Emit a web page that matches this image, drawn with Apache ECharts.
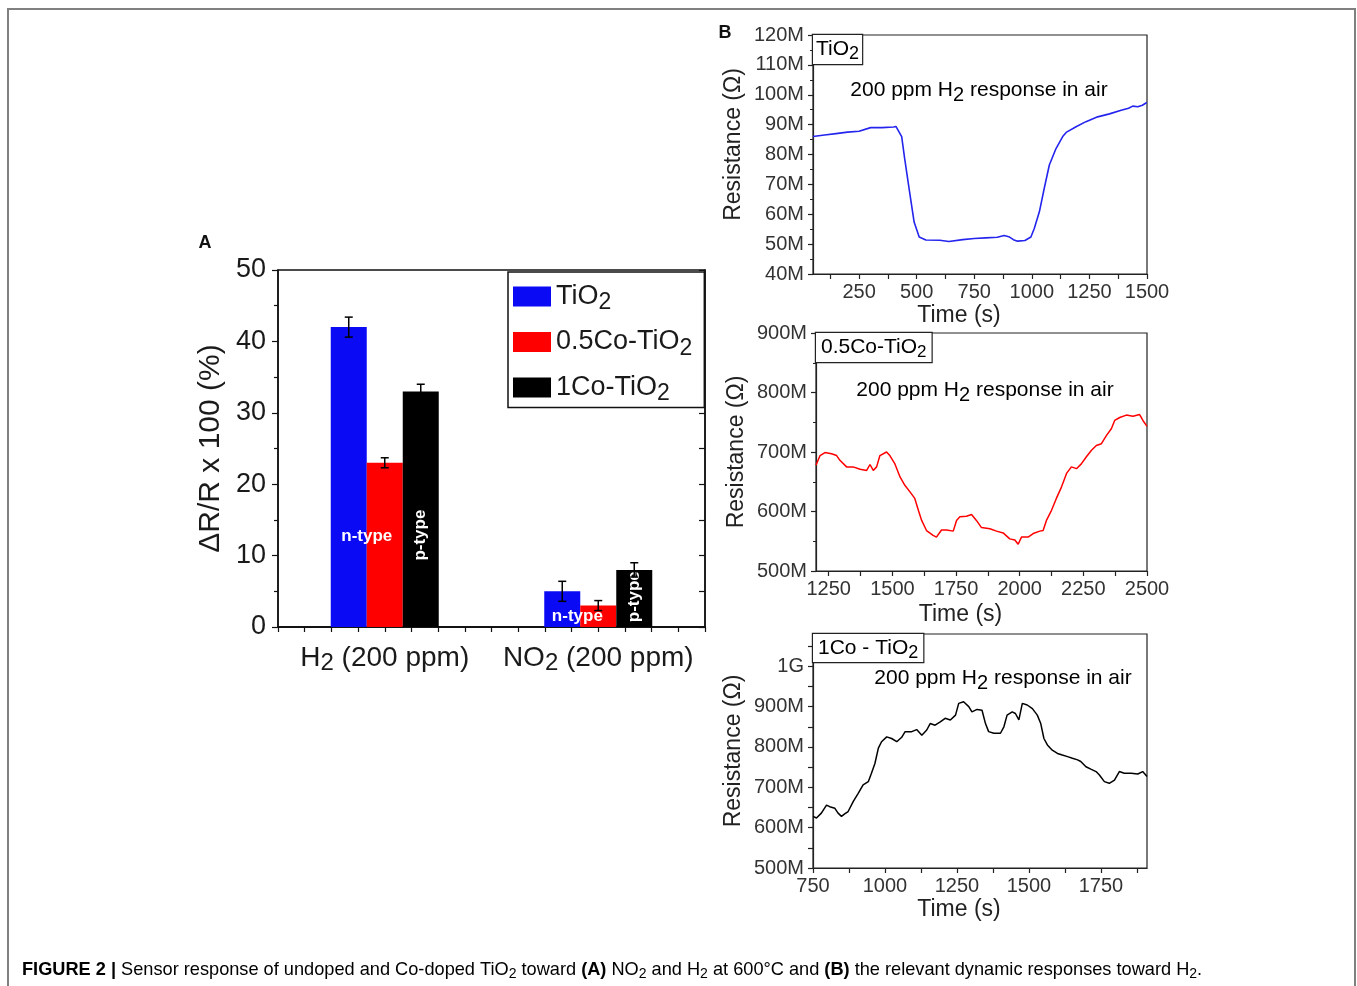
<!DOCTYPE html>
<html><head><meta charset="utf-8">
<script src="https://cdn.jsdelivr.net/npm/echarts@6/dist/echarts.min.js"></script>
<style>html,body{margin:0;padding:0;background:#fff}#c{width:1357px;height:986px}</style>
</head><body><div id="c"></div>
<script>
// ---------- Panel A data ----------
const gases = ['H2 (200 ppm)', 'NO2 (200 ppm)'];
const seriesNames = ['TiO2', '0.5Co-TiO2', '1Co-TiO2'];
const tio2Resp = [42, 5];
const co05Resp = [23, 3];
const co1Resp = [33, 8];
const tio2Err = [1.4, 1.4];
const co05Err = [0.7, 0.7];
const co1Err = [1.0, 1.0];

// ---------- Panel B data ----------
const tio2Time = [50,100,150,200,250,300,350,400,410,435,448,467,489,511,540,600,640,700,750,800,850,880,900,920,938,970,996,1011,1033,1054,1076,1105,1134,1149,1192,1235,1286,1337,1388,1420,1438,1460,1480,1499];
const tio2Res = [86.0,86.5,87.0,87.5,87.8,89.0,89.0,89.2,89.4,86,78.6,68.7,57.4,52.4,51.4,51.3,50.9,51.5,51.9,52.1,52.3,52.9,52.5,51.5,51.0,51.2,52.4,55.3,60.9,68.7,76.5,82,86,87.4,89.3,91,92.6,93.6,94.8,95.5,96.2,96.0,96.5,97.4];

const co05Time = [1200,1216,1235,1261,1281,1294,1320,1346,1373,1399,1412,1425,1438,1451,1477,1490,1510,1530,1549,1569,1588,1602,1615,1634,1660,1673,1693,1713,1739,1752,1765,1791,1811,1830,1850,1883,1909,1935,1961,1981,1994,2007,2033,2053,2079,2092,2105,2125,2144,2164,2184,2203,2223,2242,2262,2282,2301,2321,2341,2360,2373,2393,2419,2445,2471,2484,2500];
const co05Res = [678,694,699,697,694,686,675,675,671,669,679,669,675,694,700,694,680,658,644,633,622,602,585,568,560,557,569,569,567,585,591,592,595,585,573,571,567,564,554,552,545,557,557,563,567,568,585,602,622,641,664,675,672,680,692,703,711,714,728,739,753,758,762,760,763,753,743];

const co1Time = [750,762,779,797,808,826,837,849,860,872,890,907,924,942,953,965,977,988,1006,1023,1041,1058,1070,1093,1110,1128,1145,1157,1174,1192,1209,1227,1245,1256,1273,1291,1302,1320,1337,1349,1360,1378,1401,1413,1424,1442,1453,1465,1477,1494,1512,1529,1541,1552,1564,1581,1599,1616,1634,1651,1669,1680,1698,1715,1733,1744,1762,1779,1797,1814,1831,1855,1878,1895,1910];
const co1Res = [628,624,636,656,652,648,636,628,634,640,665,685,706,714,735,759,797,813,825,821,813,824,838,838,843,829,842,858,854,862,871,867,879,908,912,900,887,893,891,858,838,834,834,850,879,887,883,867,908,904,895,879,858,821,805,792,784,780,776,772,768,764,751,745,739,731,714,710,718,739,735,735,733,739,727];

// tick label arrays
const b1TimeLabels = [250,500,750,1000,1250,1500];
const b1TimeTicks = [125,250,375,500,625,750,875,1000,1125,1250,1375,1500];
const b2TimeLabels = [1250,1500,1750,2000,2250,2500];
const b2TimeTicks = [1250,1375,1500,1625,1750,1875,2000,2125,2250,2375,2500];
const b3TimeLabels = [750,1000,1250,1500,1750];
const b3TimeTicks = [750,875,1000,1125,1250,1375,1500,1625,1750,1875];
const b3ResLabels = [500,600,700,800,900,1000];
const b3ResTicks = [500,550,600,650,700,750,800,850,900,950,1000,1050];

const FF = '"Liberation Sans", Arial, Helvetica, sans-serif';
function chem(s){
  return s.split(/((?<=[HO])2)/).filter(p=>p!=='').map(p => p==='2' ? '{s|2}' : '{n|'+p+'}').join('');
}
function richSet(fs, sfs, lh, color){
  return { n:{fontSize:fs, lineHeight:lh, fontFamily:FF, color:color},
           s:{fontSize:sfs, lineHeight:Math.round(lh*0.62), verticalAlign:'bottom', fontFamily:FF, color:color} };
}
const zip = (a,b) => a.map((v,i)=>[v,b[i]]);

const BAR_W = 36;
const COLORS = ['#0a0af5', '#ff0000', '#000000'];
const resp = [tio2Resp, co05Resp, co1Resp];
const errs = [tio2Err, co05Err, co1Err];

// style of in-bar type labels (series index -> category index)
const typeLabelStyle = {
  '1-0': {text:'n-type', pos:['0%','45%'], rotate:0},
  '1-1': {text:'n-type', pos:['-8%','50%'], rotate:0},
  '2-0': {text:'p-type', pos:['50%','61%'], rotate:90},
  '2-1': {text:'p-type', pos:['50%','47%'], rotate:90}
};

const barSeries = resp.map((vals, si) => ({
  type:'bar', name: seriesNames[si], xAxisIndex:0, yAxisIndex:0,
  barWidth: BAR_W, barGap:'0%', itemStyle:{color:COLORS[si]},
  emphasis:{disabled:true}, z:2,
  data: vals.map((v, ci) => {
    const l = typeLabelStyle[si+'-'+ci];
    const d = {value:v};
    if (l) d.label = {show:true, formatter:l.text, position:l.pos, rotate:l.rotate,
      align:'center', verticalAlign:'middle', color:'#fff', fontWeight:'bold', fontSize:17, fontFamily:FF};
    return d;
  })
}));

const errSeries = resp.map((vals, si) => ({
  type:'custom', xAxisIndex:0, yAxisIndex:0, z:5, silent:true,
  data: vals.map((v, ci) => [ci, v - errs[si][ci], v + errs[si][ci]]),
  encode:{x:0, y:[1,2]},
  renderItem: function(params, api){
    const c = api.value(0);
    const pHi = api.coord([c, api.value(2)]);
    const pLo = api.coord([c, api.value(1)]);
    const x = pHi[0] + (si - 1) * BAR_W;
    const st = {stroke:'#000', lineWidth:1.5};
    return {type:'group', children:[
      {type:'line', shape:{x1:x, y1:pHi[1], x2:x, y2:pLo[1]}, style:st},
      {type:'line', shape:{x1:x-4, y1:pHi[1], x2:x+4, y2:pHi[1]}, style:st},
      {type:'line', shape:{x1:x-4, y1:pLo[1], x2:x+4, y2:pLo[1]}, style:st}
    ]};
  }
}));

function timeAxis(grid, min, max, labels, ticks, gap){
  return {type:'value', gridIndex:grid, min:min, max:max,
    axisLine:{show:true, onZero:false, lineStyle:{color:'#222', width:1.2}},
    axisTick:{show:true, inside:false, length:5, customValues:ticks, lineStyle:{color:'#222', width:1.2}},
    axisLabel:{customValues:labels, fontSize:20, color:'#333', margin:8, fontFamily:FF, formatter: v => String(v)},
    splitLine:{show:false},
    name:'Time (s)', nameLocation:'middle', nameGap:gap,
    nameTextStyle:{fontSize:23, color:'#222', fontFamily:FF, padding:[0,42,0,0]}};
}
function resAxis(grid, min, max, extra, gap, pad){
  const ax = {type:'value', gridIndex:grid, min:min, max:max,
    axisLine:{show:true, onZero:false, lineStyle:{color:'#222', width:1.2}},
    axisTick:{show:true, inside:false, length:5, lineStyle:{color:'#222', width:1.2}},
    minorTick:{show:true, splitNumber:2, length:3, lineStyle:{color:'#222', width:1}},
    axisLabel:{fontSize:20, color:'#333', margin:9, fontFamily:FF, formatter: v => v>=1000 ? (v/1000)+'G' : v+'M'},
    splitLine:{show:false}, minorSplitLine:{show:false},
    name:'Resistance (Ω)', nameLocation:'middle', nameGap:gap,
    nameTextStyle:{fontSize:23, color:'#222', fontFamily:FF, padding:pad}};
  return Object.assign(ax, extra || {});
}

const gridBorder = {show:true, borderColor:'#222', borderWidth:1.2, backgroundColor:'transparent'};

const option = {
  animation:false,
  backgroundColor:'#fff',
  grid:[
    Object.assign({left:278, top:270, width:427, height:357}, gridBorder, {borderColor:'#111', borderWidth:1.5}),
    Object.assign({left:813, top:35, width:334, height:239}, gridBorder),
    Object.assign({left:816, top:333, width:331, height:238}, gridBorder),
    Object.assign({left:813, top:634, width:334, height:234}, gridBorder)
  ],
  xAxis:[
    {type:'category', gridIndex:0, data:gases,
      axisLine:{lineStyle:{color:'#111', width:1.5}}, axisTick:{show:false},
      axisLabel:{margin:14, formatter: v => chem(v), rich: richSet(28, 24, 34, '#1a1a1a')}},
    {type:'value', gridIndex:0, position:'top', min:0, max:16, interval:1,
      axisLine:{show:true, lineStyle:{color:'#111', width:1.5}},
      axisTick:{show:true, inside:true, length:5, lineStyle:{color:'#111', width:1.2}},
      axisLabel:{show:false}, splitLine:{show:false}},
    timeAxis(1, 50, 1500, b1TimeLabels, b1TimeTicks, 30),
    timeAxis(2, 1200, 2500, b2TimeLabels, b2TimeTicks, 32),
    timeAxis(3, 750, 1910, b3TimeLabels, b3TimeTicks, 30)
  ],
  yAxis:[
    {type:'value', gridIndex:0, min:0, max:50, interval:10, position:'left',
      axisLine:{show:true, lineStyle:{color:'#111', width:1.5}},
      axisTick:{show:true, inside:false, length:6, lineStyle:{color:'#111', width:1.2}},
      minorTick:{show:true, splitNumber:2, length:4, lineStyle:{color:'#111', width:1.2}},
      axisLabel:{fontSize:27, color:'#1a1a1a', margin:12, fontFamily:FF},
      splitLine:{show:false}, minorSplitLine:{show:false},
      name:'ΔR/R x 100 (%)', nameLocation:'middle', nameGap:52,
      nameTextStyle:{fontSize:30, color:'#1a1a1a', fontFamily:FF}},
    {type:'value', gridIndex:0, min:0, max:50, interval:5, position:'right',
      axisLine:{show:true, lineStyle:{color:'#111', width:1.5}},
      axisTick:{show:true, inside:true, length:6, lineStyle:{color:'#111', width:1.2}},
      axisLabel:{show:false}, splitLine:{show:false}},
    resAxis(1, 40, 120, {interval:10}, 68, [0,0,0,20]),
    resAxis(2, 500, 900, {interval:100}, 68, [0,0,0,0]),
    resAxis(3, 500, 1080, {axisLabel:{fontSize:20, color:'#333', margin:9, fontFamily:FF, customValues:b3ResLabels,
        formatter: v => v>=1000 ? (v/1000)+'G' : v+'M'},
      axisTick:{show:true, inside:false, length:5, customValues:b3ResTicks, lineStyle:{color:'#222', width:1.2}},
      minorTick:{show:false}}, 68, [0,0,0,0])
  ],
  legend:{
    data: seriesNames, orient:'vertical', left:508, top:272, icon:'rect',
    itemWidth:38, itemHeight:20, itemGap:14, padding:[11,12,2,5],
    borderColor:'#111', borderWidth:1.5, backgroundColor:'#fff', selectedMode:false,
    formatter: n => chem(n),
    textStyle:{fontSize:27, color:'#1a1a1a', fontFamily:FF, rich: richSet(27, 23, 36, '#1a1a1a')}
  },
  series: barSeries.concat(errSeries).concat([
    {type:'line', xAxisIndex:2, yAxisIndex:2, data: zip(tio2Time, tio2Res), showSymbol:false,
      lineStyle:{color:'#2424ee', width:1.6}, itemStyle:{color:'#2424ee'}, silent:true},
    {type:'line', xAxisIndex:3, yAxisIndex:3, data: zip(co05Time, co05Res), showSymbol:false,
      lineStyle:{color:'#ff0000', width:1.5}, itemStyle:{color:'#ff0000'}, silent:true},
    {type:'line', xAxisIndex:4, yAxisIndex:4, data: zip(co1Time, co1Res), showSymbol:false,
      lineStyle:{color:'#000', width:1.5}, itemStyle:{color:'#000'}, silent:true}
  ]),
  graphic:[
    {type:'rect', shape:{x:8, y:9, width:1347, height:1000}, style:{fill:'none', stroke:'#808080', lineWidth:2}, silent:true},
    {type:'text', x:205, y:243, style:{text:'A', font:'bold 18px '+FF, fill:'#111', textAlign:'center', textVerticalAlign:'middle'}},
    {type:'text', x:725, y:33, style:{text:'B', font:'bold 18px '+FF, fill:'#111', textAlign:'center', textVerticalAlign:'middle'}},
    // label boxes
    {type:'text', x:813, y:35, z:10, style:{text:chem('TiO2'), rich:richSet(21,18,28,'#222'), borderColor:'#222', borderWidth:1.2, padding:[0,3,1,3], backgroundColor:'#fff'}},
    {type:'text', x:816, y:333, z:10, style:{text:chem('0.5Co-TiO2'), rich:richSet(21,17,28,'#222'), borderColor:'#222', borderWidth:1.2, padding:[0,5,1,5], backgroundColor:'#fff'}},
    {type:'text', x:813, y:634, z:10, style:{text:chem('1Co - TiO2'), rich:richSet(21,18,28,'#222'), borderColor:'#222', borderWidth:1.2, padding:[0,5,0,5], backgroundColor:'#fff'}},
    // annotations
    {type:'text', x:979, y:90, style:{text:chem('200 ppm H2 response in air'), rich:richSet(21,20,30,'#222'), textAlign:'center', textVerticalAlign:'middle'}},
    {type:'text', x:985, y:390, style:{text:chem('200 ppm H2 response in air'), rich:richSet(21,20,30,'#222'), textAlign:'center', textVerticalAlign:'middle'}},
    {type:'text', x:1003, y:678, style:{text:chem('200 ppm H2 response in air'), rich:richSet(21,20,30,'#222'), textAlign:'center', textVerticalAlign:'middle'}},
    // caption
    {type:'text', x:22, y:970, style:{
      text:'{b|FIGURE 2 |}{n| Sensor response of undoped and Co-doped TiO}{s|2}{n| toward }{b|(A)}{n| NO}{s|2}{n| and H}{s|2}{n| at 600°C and }{b|(B)}{n| the relevant dynamic responses toward H}{s|2}{n|.}',
      rich:{ b:{fontSize:18.2, fontWeight:'bold', fontFamily:FF, color:'#333', lineHeight:22},
             n:{fontSize:18.2, fontFamily:FF, color:'#333', lineHeight:22},
             s:{fontSize:14, fontFamily:FF, color:'#333', lineHeight:12, verticalAlign:'bottom'} },
      textVerticalAlign:'middle'}}
  ]
};
const chart = echarts.init(document.getElementById('c'), null, {renderer:'canvas'});
chart.setOption(option);
</script></body></html>
